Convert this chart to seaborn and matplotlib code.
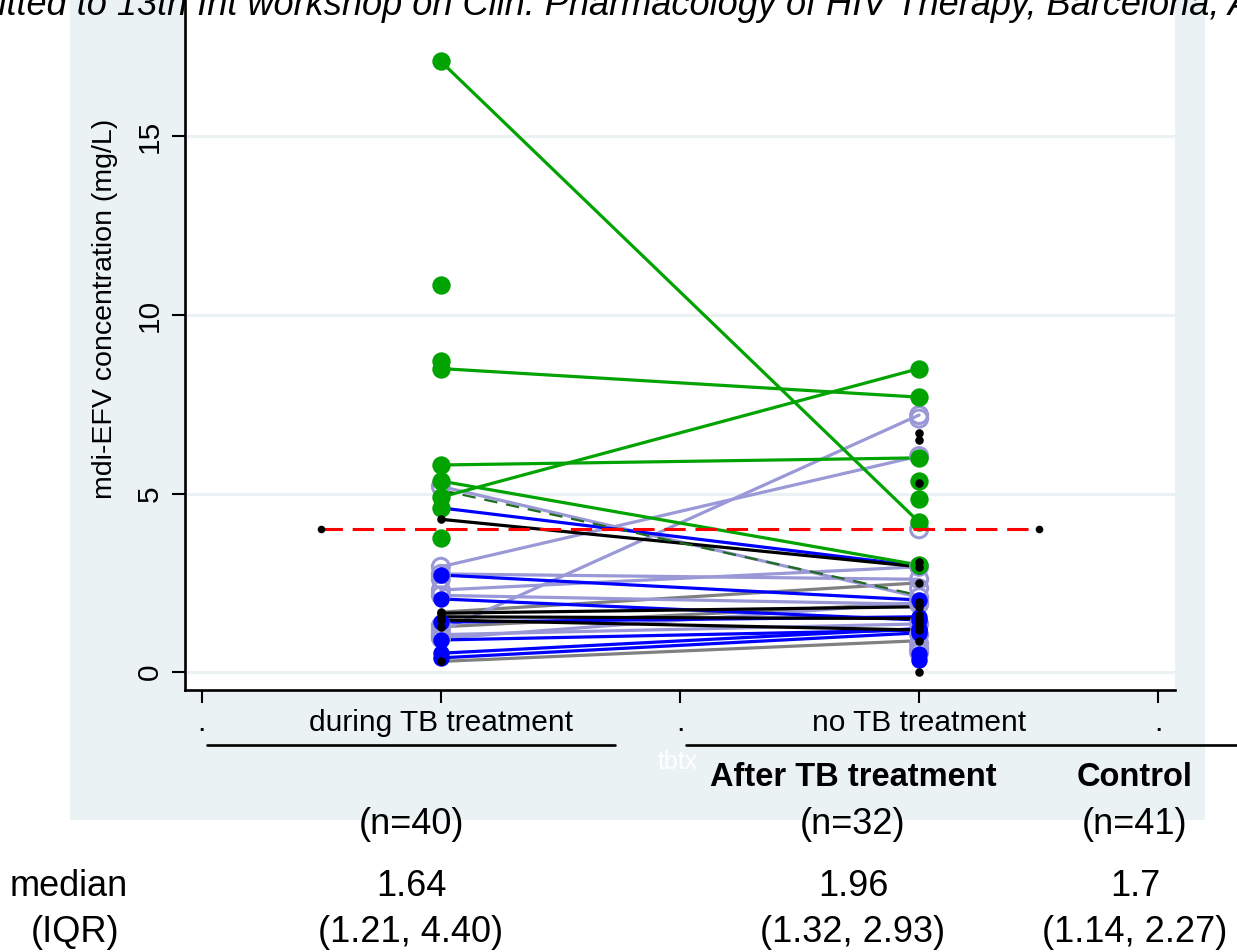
import matplotlib
matplotlib.use("Agg")
import matplotlib.pyplot as plt
import pandas as pd
import seaborn as sns
from matplotlib.lines import Line2D
from matplotlib.patches import Rectangle

sns.set_style("white")
plt.rcParams["font.family"] = ["Liberation Sans", "DejaVu Sans"]
plt.rcParams["text.color"] = "black"
plt.rcParams["axes.labelcolor"] = "black"
plt.rcParams["xtick.color"] = "black"
plt.rcParams["ytick.color"] = "black"

# ---- data -------------------------------------------------------------
tick_positions = [0, 1, 2, 3, 4]
tick_labels = [".", "during TB treatment", ".", "no TB treatment", "."]
yticks = [0, 5, 10, 15]

# paired measurements (during TB treatment -> no TB treatment), by line colour
green_during = [17.1, 8.5, 4.9, 5.8, 5.35]
green_after = [4.2, 7.7, 8.5, 6.0, 3.0]
lav_during = [2.95, 1.15, 5.2, 2.3, 2.15, 0.95, 1.05, 2.75]
lav_after = [6.05, 7.2, 2.1, 2.95, 1.9, 1.95, 1.35, 2.6]
blue_during = [4.6, 2.72, 2.05, 0.9, 0.53, 0.4, 1.4]
blue_after = [2.97, 2.02, 1.46, 1.18, 1.22, 1.1, 1.55]
black_during = [4.28, 1.65, 1.46, 1.55]
black_after = [2.95, 1.83, 1.18, 1.5]
gray_during = [1.68, 0.3, 1.27]
gray_after = [2.5, 0.88, 1.93]
dashed_during = [5.1]
dashed_after = [2.15]

# single measurements
green_only_during = [10.85, 8.7, 4.6, 3.75]
green_only_after = [5.35, 4.85]
lav_only_during = [1.3, 1.0, 2.6]
lav_only_after = [7.1, 4.0, 2.35, 0.8, 0.65, 0.55, 1.05]
blue_only_after = [0.35, 0.5]
black_only_after = [6.7, 6.5, 5.3, 3.09, 1.97, 1.6, 1.41, 1.27, 0.0]

# reference level
ref_x = [0.5, 3.5]
ref_y = [4, 4]

# summary table under the axis
groups = ["", "After TB treatment", "Control"]
n_labels = ["(n=40)", "(n=32)", "(n=41)"]
medians = ["1.64", "1.96", "1.7"]
iqrs = ["(1.21, 4.40)", "(1.32, 2.93)", "(1.14, 2.27)"]

title = ("Submitted to 13th Int workshop on Clin. Pharmacology of HIV Therapy, "
         "Barcelona, April 2012")

# ---- colours ----------------------------------------------------------
GREEN = "#00a300"
LAV = "#9a98d6"
BLUE = "#0000ff"
BLACK = "#000000"
GRAY = "#808080"
PANEL = "#eaf2f3"

W, H = 1237, 952


def fx(px):
    return px / W


def fy(py):
    return 1 - py / H


def pairs(during, after):
    rows = []
    for i, (a, b) in enumerate(zip(during, after)):
        rows.append({"pid": i, "x": 1, "conc": a})
        rows.append({"pid": i, "x": 3, "conc": b})
    return pd.DataFrame(rows)


def singles(during, after):
    return pd.DataFrame({"x": [1] * len(during) + [3] * len(after),
                         "conc": list(during) + list(after)})


fig = plt.figure(figsize=(W / 100, H / 100), dpi=100)
fig.patch.set_facecolor("white")
fig.patches.append(Rectangle((fx(70), fy(820)), fx(1205) - fx(70), 1 - fy(820),
                             transform=fig.transFigure, facecolor=PANEL,
                             edgecolor="none", zorder=-1))

ax = fig.add_axes([fx(185), fy(690), fx(1175) - fx(185), 1 - fy(690)])
ax.set_zorder(1)
ax.set_facecolor("white")
ax.set_xlim(-0.07, 4.07)
ax.set_ylim(-0.5, 18.82)

for v in yticks:
    ax.axhline(v, color=PANEL, lw=2.2, zorder=0)

lw = 2.3
line_sets = [
    (pairs(gray_during, gray_after), GRAY),
    (pairs(lav_during, lav_after), LAV),
    (pairs(blue_during, blue_after), BLUE),
    (pairs(black_during, black_after), BLACK),
    (pairs(green_during, green_after), GREEN),
]
for df, col in line_sets:
    sns.lineplot(data=df, x="x", y="conc", units="pid", estimator=None,
                 color=col, lw=lw, ax=ax, legend=False)

sns.lineplot(data=pairs(dashed_during, dashed_after), x="x", y="conc",
             units="pid", estimator=None, color="#1f6b1f", lw=1.6,
             ax=ax, legend=False)
ax.lines[-1].set_linestyle((0, (6, 4)))

# markers
lav_pts = pd.concat([pairs(lav_during, lav_after), singles(lav_only_during, lav_only_after)])
sns.scatterplot(data=lav_pts, x="x", y="conc", marker="o", s=150,
                facecolor="none", edgecolor=LAV, linewidth=2.2, ax=ax, zorder=4)
blue_pts = pd.concat([pairs(blue_during, blue_after), singles([], blue_only_after)])
sns.scatterplot(data=blue_pts, x="x", y="conc", marker="o", s=140,
                color=BLUE, edgecolor=BLUE, linewidth=0, ax=ax, zorder=5)
green_pts = pd.concat([pairs(green_during, green_after),
                       singles(green_only_during, green_only_after)])
sns.scatterplot(data=green_pts, x="x", y="conc", marker="o", s=175,
                color=GREEN, edgecolor=GREEN, linewidth=0, ax=ax, zorder=6)
black_pts = pd.concat([pairs(black_during, black_after), pairs(gray_during, gray_after),
                       singles([], black_only_after)])
sns.scatterplot(data=black_pts, x="x", y="conc", marker="o", s=38,
                color=BLACK, edgecolor=BLACK, linewidth=0, ax=ax, zorder=7)

# reference line at 4 mg/L
sns.lineplot(x=ref_x, y=ref_y, color="#ff0000", lw=2.2, ax=ax, legend=False, zorder=8)
ax.lines[-1].set_linestyle((0, (7, 3.2)))
sns.scatterplot(x=ref_x, y=ref_y, color=BLACK, s=30, linewidth=0, ax=ax, zorder=9)

# axes styling
for side in ["top", "right"]:
    ax.spines[side].set_visible(False)
for side in ["left", "bottom"]:
    ax.spines[side].set_color("black")
    ax.spines[side].set_linewidth(1.9)
ax.set_xticks(tick_positions)
ax.set_xticklabels(tick_labels, fontsize=21.5)
ax.set_yticks(yticks)
ax.set_yticklabels([str(v) for v in yticks], rotation=90, va="center", fontsize=21.5)
ax.tick_params(axis="both", direction="out", length=9.5, width=1.5, color="black",
               left=True, bottom=True)
ax.tick_params(axis="x", pad=4)
ax.tick_params(axis="y", pad=6)

ax.set_ylabel("mdi-EFV concentration (mg/L)", fontsize=20.5)
ax.yaxis.set_label_coords((118 - 185) / 990, (690 - 309) / 690)
ax.set_xlabel("tbtx", color="white", fontsize=18)
ax.xaxis.set_label_coords((678 - 185) / 990, (690 - 762) / 690)
ax.xaxis.label.set_va("center")

# group underlines
fig.add_artist(Line2D([fx(207), fx(615)], [fy(745), fy(745)], color="black",
                      lw=1.9, transform=fig.transFigure))
fig.add_artist(Line2D([fx(686), fx(1240)], [fy(745), fy(745)], color="black",
                      lw=1.9, transform=fig.transFigure))

# title
fig.text(fx(-96), fy(15), title, fontsize=26, style="italic", ha="left",
         va="baseline")

# summary table
cols = [411, 853, 1135]
for cx, g, n, m, q in zip(cols, groups, n_labels, medians, iqrs):
    if g:
        fig.text(fx(cx), fy(778), g, fontsize=23.5, fontweight="bold",
                 ha="center", va="center")
    fig.text(fx(cx), fy(825), n, fontsize=26, ha="center", va="center")
    fig.text(fx(cx), fy(887), m, fontsize=26, ha="center", va="center")
    fig.text(fx(cx), fy(932), q, fontsize=26, ha="center", va="center")
fig.text(fx(69), fy(887), "median", fontsize=26, ha="center", va="center")
fig.text(fx(75), fy(932), "(IQR)", fontsize=26, ha="center", va="center")

fig.savefig("out.png", dpi=100)
